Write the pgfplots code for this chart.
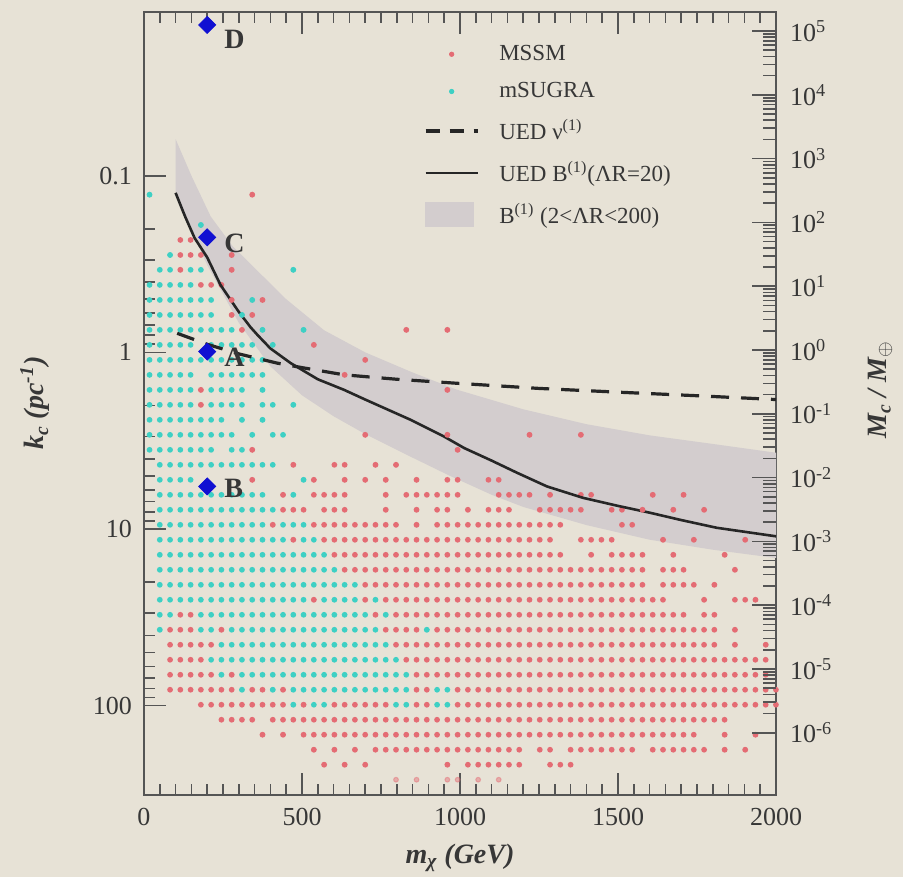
\documentclass[border=0pt]{standalone}
\usepackage{pgfplots}
\pgfplotsset{compat=1.18}
\usepackage{fontspec}
\setmainfont{Liberation Serif}
\usetikzlibrary{backgrounds}
\definecolor{bg}{RGB}{231,226,214}
\definecolor{mssm}{RGB}{228,108,116}
\definecolor{msugra}{RGB}{62,208,196}
\definecolor{bandc}{RGB}{211,205,206}
\definecolor{axc}{RGB}{85,85,85}
\definecolor{txt}{RGB}{55,55,55}
\definecolor{dia}{RGB}{16,16,210}
\begin{document}
\begin{tikzpicture}
\begin{axis}[name=main, at={(0,0)}, anchor=south west,
  width=316pt, height=391.5pt, scale only axis, enlargelimits=false,
  xmin=0, xmax=2000, ymode=log, ymin=0.011783, ymax=319.4, y dir=reverse,
  xtick={0,500,1000,1500,2000}, xticklabels={0,500,1000,1500,2000}, minor x tick num=9,
  ytick={0.1,1,10,100}, yticklabels={0.1,1,10,100}, ytick pos=left,
  tick align=inside, major tick length=11pt, minor tick length=5.5pt,
  axis line style={axc, line width=1pt}, tick style={axc, line width=0.8pt},
  ticklabel style={font=\fontsize{13}{15}\selectfont, text=txt},
  xticklabel style={yshift=-3pt}, yticklabel style={xshift=-2.5pt},
  xlabel={\textbf{\textit{m\textsubscript{χ} (GeV)}}},
  xlabel style={at={(axis description cs:0.5,-0.0805)}, anchor=center, font=\fontsize{14}{16}\selectfont, text=txt},
  ylabel={\textbf{\textit{k\textsubscript{c} (pc\textsuperscript{-1})}}},
  ylabel style={at={(axis description cs:-0.1725,0.5)}, anchor=center, font=\fontsize{14}{16}\selectfont, text=txt},
  legend style={at={(axis description cs:0.433,0.968)}, anchor=north west, draw=none, fill=none,
    font=\fontsize{11.5}{13}\selectfont, text=txt, row sep=5.5pt,
    /tikz/every odd column/.append style={column sep=8pt}},
  legend cell align=left,
  legend image code/.code={\draw[mark repeat=2,mark phase=2,#1] plot coordinates {(0pt,0pt) (13pt,0pt) (26pt,0pt)};},
  clip=false, unbounded coords=jump]

% B(1) band
\addplot[fill=bandc, draw=none, forget plot] coordinates {
(100,0.062) (150,0.10) (211,0.17) (280,0.25) (348,0.33) (450,0.50) (570,0.75) (700,1.0) (850,1.3) (987,1.62) (1200,2.1) (1400,2.55) (1600,2.95) (1800,3.3) (2000,3.7)
(2000,14.6) (1800,13.1) (1600,11.5) (1400,9.5) (1200,7.5) (1100,6.4) (968,5.0) (844,3.9) (700,2.9) (600,2.3) (500,1.75) (400,1.2) (300,0.68) (200,0.32) (100,0.13)} -- cycle;

% mSUGRA runs
\addplot[msugra, no marks, line width=2.9pt, line cap=round, dash pattern=on 0pt off 5.134pt, forget plot] coordinates {
(50,0.341)(82.5,0.341) (nan,nan)
(147.5,0.341)(180,0.341) (nan,nan)
(17.5,0.415)(147.5,0.415) (nan,nan)
(17.5,0.505)(212.5,0.505) (nan,nan)
(17.5,0.614)(212.5,0.614) (nan,nan)
(17.5,0.746)(277.5,0.746) (nan,nan)
(17.5,0.907)(147.5,0.907) (nan,nan)
(212.5,0.907)(342.5,0.907) (nan,nan)
(17.5,1.103)(375,1.103) (nan,nan)
(17.5,1.341)(147.5,1.341) (nan,nan)
(212.5,1.341)(375,1.341) (nan,nan)
(17.5,1.631)(147.5,1.631) (nan,nan)
(212.5,1.631)(310,1.631) (nan,nan)
(17.5,1.982)(147.5,1.982) (nan,nan)
(212.5,1.982)(310,1.982) (nan,nan)
(375,1.982)(407.5,1.982) (nan,nan)
(17.5,2.410)(245,2.410) (nan,nan)
(17.5,2.930)(277.5,2.930) (nan,nan)
(407.5,2.930)(440,2.930) (nan,nan)
(17.5,3.563)(212.5,3.563) (nan,nan)
(277.5,3.563)(310,3.563) (nan,nan)
(50,4.332)(407.5,4.332) (nan,nan)
(50,5.268)(147.5,5.268) (nan,nan)
(50,6.406)(375,6.406) (nan,nan)
(50,7.787)(407.5,7.787) (nan,nan)
(50,9.469)(375,9.469) (nan,nan)
(440,9.469)(505,9.469) (nan,nan)
(50,11.51)(440,11.51) (nan,nan)
(505,11.51)(537.5,11.51) (nan,nan)
(50,14.00)(570,14.00) (nan,nan)
(50,17.02)(602.5,17.02) (nan,nan)
(50,20.70)(667.5,20.70) (nan,nan)
(50,25.16)(505,25.16) (nan,nan)
(570,25.16)(667.5,25.16) (nan,nan)
(50,30.60)(82.5,30.60) (nan,nan)
(180,30.60)(700,30.60) (nan,nan)
(180,37.20)(212.5,37.20) (nan,nan)
(277.5,37.20)(732.5,37.20) (nan,nan)
(245,45.23)(765,45.23) (nan,nan)
(212.5,55.00)(797.5,55.00) (nan,nan)
(310,66.88)(830,66.88) (nan,nan)
(472.5,81.30)(830,81.30) (nan,nan)
(927.5,81.30)(960,81.30) (nan,nan)
(537.5,98.85)(570,98.85) (nan,nan)
(797.5,98.85)(830,98.85) (nan,nan)
(927.5,98.85)(960,98.85)};

% mSUGRA single points
\addplot[only marks, mark=*, mark size=1.2pt, color=msugra, mark options={line width=0.5pt}, forget plot] coordinates {
(17.5,0.128) (180,0.190) (82.5,0.281) (472.5,0.341) (342.5,0.505) (310,0.614)
(375,0.746) (505,0.746) (407.5,0.907) (375,1.631) (472.5,1.982) (310,2.410) (375,2.410)
(342.5,2.930) (505,5.268) (472.5,6.406) (732.5,25.16) (765,30.60) (50,37.20) (895,37.20)
(245,66.88) (310,81.30) (407.5,81.30) (472.5,98.85)};

% MSSM runs
\addplot[mssm, no marks, line width=2.9pt, line cap=round, dash pattern=on 0pt off 5.134pt, forget plot] coordinates {
(115,0.231)(147.5,0.231) (nan,nan)
(115,0.281)(180,0.281) (nan,nan)
(180,0.415)(245,0.415) (nan,nan)
(602.5,4.332)(635,4.332) (nan,nan)
(960,5.268)(992.5,5.268) (nan,nan)
(1090,5.268)(1122.5,5.268) (nan,nan)
(537.5,6.406)(635,6.406) (nan,nan)
(830,6.406)(992.5,6.406) (nan,nan)
(1122.5,6.406)(1220,6.406) (nan,nan)
(1382.5,6.406)(1415,6.406) (nan,nan)
(440,7.787)(505,7.787) (nan,nan)
(570,7.787)(635,7.787) (nan,nan)
(927.5,7.787)(960,7.787) (nan,nan)
(1090,7.787)(1155,7.787) (nan,nan)
(1252.5,7.787)(1382.5,7.787) (nan,nan)
(1480,7.787)(1512.5,7.787) (nan,nan)
(537.5,9.469)(797.5,9.469) (nan,nan)
(927.5,9.469)(1317.5,9.469) (nan,nan)
(1512.5,9.469)(1545,9.469) (nan,nan)
(570,11.51)(1285,11.51) (nan,nan)
(1382.5,11.51)(1480,11.51) (nan,nan)
(602.5,14.00)(1317.5,14.00) (nan,nan)
(1480,14.00)(1577.5,14.00) (nan,nan)
(635,17.02)(1577.5,17.02) (nan,nan)
(1642.5,17.02)(1707.5,17.02) (nan,nan)
(700,20.70)(1577.5,20.70) (nan,nan)
(1642.5,20.70)(1740,20.70) (nan,nan)
(765,25.16)(1642.5,25.16) (nan,nan)
(1870,25.16)(1902.5,25.16) (nan,nan)
(115,30.60)(147.5,30.60) (nan,nan)
(797.5,30.60)(1707.5,30.60) (nan,nan)
(1772.5,30.60)(1805,30.60) (nan,nan)
(82.5,37.20)(147.5,37.20) (nan,nan)
(765,37.20)(862.5,37.20) (nan,nan)
(927.5,37.20)(1805,37.20) (nan,nan)
(82.5,45.23)(212.5,45.23) (nan,nan)
(797.5,45.23)(1805,45.23) (nan,nan)
(82.5,55.00)(180,55.00) (nan,nan)
(830,55.00)(1967.5,55.00) (nan,nan)
(82.5,66.88)(212.5,66.88) (nan,nan)
(862.5,66.88)(1967.5,66.88) (nan,nan)
(82.5,81.30)(277.5,81.30) (nan,nan)
(342.5,81.30)(375,81.30) (nan,nan)
(862.5,81.30)(895,81.30) (nan,nan)
(992.5,81.30)(2000,81.30) (nan,nan)
(180,98.85)(440,98.85) (nan,nan)
(602.5,98.85)(765,98.85) (nan,nan)
(862.5,98.85)(895,98.85) (nan,nan)
(992.5,98.85)(2000,98.85) (nan,nan)
(245,120.2)(342.5,120.2) (nan,nan)
(407.5,120.2)(1837.5,120.2) (nan,nan)
(505,146.1)(1740,146.1) (nan,nan)
(732.5,177.7)(1187.5,177.7) (nan,nan)
(1252.5,177.7)(1285,177.7) (nan,nan)
(1350,177.7)(1545,177.7) (nan,nan)
(1610,177.7)(1772.5,177.7) (nan,nan)
(1025,216.0)(1187.5,216.0) (nan,nan)
(1285,216.0)(1350,216.0)};

% MSSM single points
\addplot[only marks, mark=*, mark size=1.2pt, color=mssm, mark options={line width=0.5pt}, forget plot] coordinates {
(342.5,0.128) (277.5,0.281) (115,0.341) (277.5,0.341) (277.5,0.505) (375,0.505)
(277.5,0.614) (342.5,0.614) (310,0.746) (830,0.746) (960,0.746) (537.5,0.907)
(700,1.103) (635,1.341) (180,1.631) (960,1.631) (180,1.982)
(700,2.930) (960,2.930) (1220,2.930) (1382.5,2.930) (342.5,3.563) (992.5,3.563)
(472.5,4.332) (732.5,4.332) (797.5,4.332)
(342.5,5.268) (537.5,5.268) (635,5.268) (700,5.268) (765,5.268) (862.5,5.268)
(440,6.406) (765,6.406) (1285,6.406) (1610,6.406) (1707.5,6.406)
(765,7.787) (862.5,7.787) (1025,7.787) (1577.5,7.787) (1675,7.787) (1772.5,7.787)
(407.5,9.469) (862.5,9.469) (472.5,11.51) (1642.5,11.51) (1740,11.51) (1902.5,11.51)
(1415,14.00) (1675,14.00) (1837.5,14.00) (1870,17.02) (1805,20.70)
(537.5,25.16) (700,25.16) (1772.5,25.16) (1935,25.16) (732.5,30.60)
(245,37.20) (1870,37.20) (1870,45.23) (1967.5,45.23) (277.5,66.88) (440,81.30)
(505,98.85) (375,146.1) (440,146.1) (1837.5,146.1) (1935,146.1)
(537.5,177.7) (602.5,177.7) (667.5,177.7) (1837.5,177.7) (1902.5,177.7)
(570,216.0) (635,216.0) (700,216.0) (960,216.0)};

\addplot[only marks, mark=*, mark size=1.2pt, color=mssm, mark options={line width=0.5pt, opacity=0.45}, forget plot] coordinates {
(797.5,262.7) (862.5,262.7) (960,262.7) (992.5,262.7) (1057.5,262.7) (1122.5,262.7)};

% UED nu(1) dashed
\addplot[color=black!85, line width=1.6pt, dash pattern=on 9pt off 6pt, forget plot] coordinates {
(105,0.78) (200,0.90) (300,1.02) (421,1.15) (500,1.22) (633,1.34) (800,1.42) (1000,1.50) (1250,1.60) (1500,1.68) (1750,1.76) (2000,1.85)};

% UED B(1) solid
\addplot[color=black!85, line width=1.3pt, forget plot] coordinates {
(100,0.125) (130,0.17) (160,0.225) (200,0.29) (242,0.415) (300,0.59) (337,0.72) (360,0.80) (400,0.95) (464,1.15) (550,1.42) (633,1.63) (700,1.85) (844,2.41) (950,3.0) (1013,3.48) (1100,4.1) (1180,4.8) (1275,5.74) (1389,6.66) (1500,7.4) (1601,8.09) (1700,8.9) (1812,9.84) (2000,11.0)};

% benchmark diamonds
\addplot[only marks, mark=square*, mark size=3pt, mark options={rotate=45, fill=dia, draw=dia}, forget plot] coordinates {
(200,0.014) (200,0.223) (200,0.99) (200,5.74)};

\node[anchor=west, font=\bfseries\fontsize{14}{14}\selectfont, text=txt, xshift=5pt, yshift=-7pt] at (axis cs:200,0.014) {D};
\node[anchor=west, font=\bfseries\fontsize{14}{14}\selectfont, text=txt, xshift=5pt, yshift=-3pt] at (axis cs:200,0.223) {C};
\node[anchor=west, font=\bfseries\fontsize{14}{14}\selectfont, text=txt, xshift=5pt, yshift=-3pt] at (axis cs:200,0.99) {A};
\node[anchor=west, font=\bfseries\fontsize{14}{14}\selectfont, text=txt, xshift=5pt, yshift=-1pt] at (axis cs:200,5.74) {B};

\addlegendimage{only marks, mark=*, mark size=1.1pt, color=mssm}
\addlegendentry{MSSM}
\addlegendimage{only marks, mark=*, mark size=1.1pt, color=msugra}
\addlegendentry{mSUGRA}
\addlegendimage{color=black!85, line width=1.6pt, dash pattern=on 7pt off 5pt}
\addlegendentry{UED ν\textsuperscript{(1)}}
\addlegendimage{color=black!85, line width=1.3pt}
\addlegendentry{UED B\textsuperscript{(1)}(ΛR=20)}
\addlegendimage{legend image code/.code={\fill[bandc] (0pt,-6pt) rectangle (24pt,6pt);}}
\addlegendentry{B\textsuperscript{(1)} (2<ΛR<200)}
\end{axis}

\begin{axis}[at={(0,0)}, anchor=south west,
  width=316pt, height=391.5pt, scale only axis, enlargelimits=false,
  xmin=0, xmax=2000, hide x axis, axis line style={draw=none},
  ymode=log, ymin=1.067e-7, ymax=2.007e5,
  ytick pos=right, yticklabel pos=right,
  ytick={1e-6,1e-5,1e-4,1e-3,1e-2,1e-1,1,10,100,1000,1e4,1e5},
  yticklabels={10\textsuperscript{-6},10\textsuperscript{-5},10\textsuperscript{-4},10\textsuperscript{-3},10\textsuperscript{-2},10\textsuperscript{-1},10\textsuperscript{0},10\textsuperscript{1},10\textsuperscript{2},10\textsuperscript{3},10\textsuperscript{4},10\textsuperscript{5}},
  tick align=inside, major tick length=12pt, minor tick length=6.5pt,
  tick style={axc, line width=0.8pt},
  ticklabel style={font=\fontsize{13}{15}\selectfont, text=txt},
  yticklabel style={xshift=3.5pt},
  ylabel={\textbf{\textit{M\textsubscript{c} / M\textsubscript{$\oplus$}}}},
  ylabel style={at={(axis description cs:1.1646,0.517)}, anchor=center, font=\fontsize{14}{16}\selectfont, text=txt}]
\end{axis}

\begin{scope}[on background layer]
\fill[bg] ([xshift=-72pt,yshift=-41pt]main.south west) rectangle ([xshift=63.5pt,yshift=5.85pt]main.north east);
\end{scope}
\pgfresetboundingbox
\path[use as bounding box] ([xshift=-72pt,yshift=-41pt]main.south west) rectangle ([xshift=63.5pt,yshift=5.85pt]main.north east);
\end{tikzpicture}
\end{document}
